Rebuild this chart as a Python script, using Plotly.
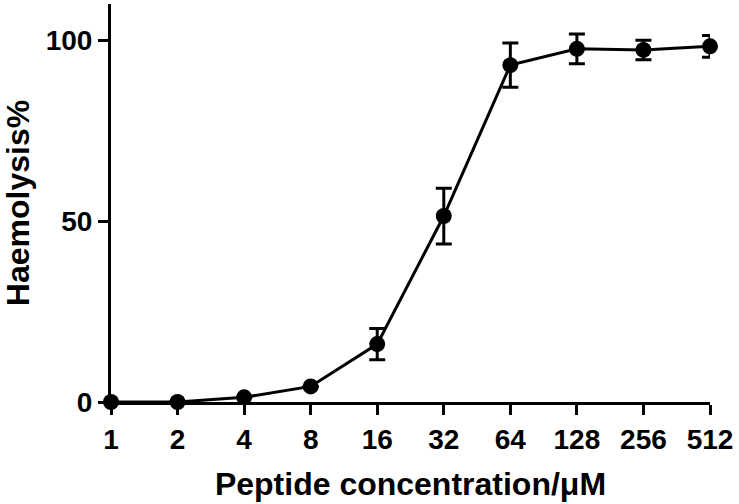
import plotly.graph_objects as go
import numpy as np

# Dati
concentrazioni = [1, 2, 4, 8, 16, 32, 64, 128, 256, 512]
emolisi = [0, 0, 1.3, 4.3, 16.0, 51.4, 93.1, 97.6, 97.3, 98.3]
errori = [0, 0, 0, 0, 4.3, 7.7, 6.1, 4.1, 2.7, 3.0]
etichette_x = [str(c) for c in concentrazioni]
ticks_y = [0, 50, 100]

font_base = dict(family="Liberation Sans, Arial, sans-serif", color="black", weight=700)

fig = go.Figure()

fig.add_trace(go.Scatter(
    x=concentrazioni,
    y=emolisi,
    mode='lines+markers',
    line=dict(color='black', width=3),
    marker=dict(size=16, color='black'),
    error_y=dict(type='data', array=errori, visible=True,
                 color='black', thickness=3, width=8),
    cliponaxis=False,
    showlegend=False,
))

fig.update_layout(
    width=739,
    height=504,
    margin=dict(l=111, r=29, t=4, b=102),
    paper_bgcolor='white',
    plot_bgcolor='white',
    font=font_base,
    xaxis=dict(
        type='log',
        range=[0, np.log10(512)],
        tickvals=concentrazioni,
        ticktext=etichette_x,
        automargin=False,
        showline=True, linecolor='black', linewidth=3,
        ticks='outside', ticklen=10, tickwidth=3, tickcolor='black',
        tickfont=dict(size=28, **font_base),
        showgrid=False, zeroline=False,
        title=dict(text='Peptide concentration/μM', font=dict(size=32, **font_base), standoff=20),
    ),
    yaxis=dict(
        range=[0, 110],
        tickvals=ticks_y,
        automargin=False,
        showline=True, linecolor='black', linewidth=3,
        ticks='outside', ticklen=10, tickwidth=3, tickcolor='black',
        tickfont=dict(size=28, **font_base),
        showgrid=False, zeroline=False,
        title=dict(text='Haemolysis%', font=dict(size=32, **font_base), standoff=22),
    ),
)

# Togli il margine della pagina, così il grafico parte dall'angolo in alto a sinistra
fig.write_html("out.html", config={'displayModeBar': False},
               post_script="document.body.style.margin='0';")
